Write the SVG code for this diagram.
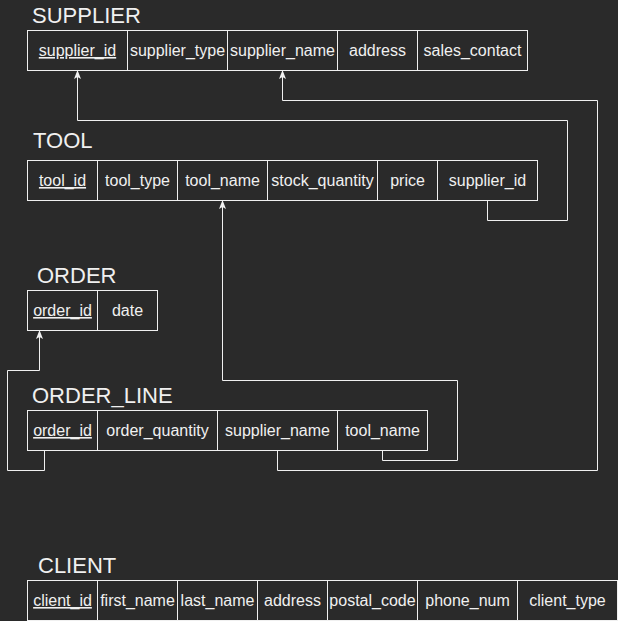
<svg xmlns="http://www.w3.org/2000/svg" width="618" height="621" viewBox="0 0 618 621">
<defs>
<marker id="arr" markerUnits="userSpaceOnUse" markerWidth="10" markerHeight="8" refX="9" refY="4" orient="auto" viewBox="0 0 10 8">
<path d="M0,0.5 L9,4 L0,7.5 L2,4 Z" fill="#f0f0f0"/>
</marker>
<style>
.cell{fill:#2a2a2a;stroke:#f0f0f0;stroke-width:1}
.t{font-family:"Liberation Sans",Arial,sans-serif;font-size:16px;fill:#f0f0f0;text-anchor:middle}
.k{text-decoration:underline}
.h{font-family:"Liberation Sans",Arial,sans-serif;font-size:22px;fill:#f0f0f0}
.c{fill:none;stroke:#f0f0f0;stroke-width:1}
</style>
</defs>
<rect width="618" height="621" fill="#2a2a2a"/>
<g id="connectors">
<polyline class="c" points="487.5,200 487.5,220.5 567.5,220.5 567.5,120.5 77.5,120.5 77.5,70" marker-end="url(#arr)"/>
<polyline class="c" points="277.5,450 277.5,470.5 597.5,470.5 597.5,100.5 282.5,100.5 282.5,70" marker-end="url(#arr)"/>
<polyline class="c" points="382.5,450 382.5,460.5 457.5,460.5 457.5,380.5 222.5,380.5 222.5,200" marker-end="url(#arr)"/>
<polyline class="c" points="44.5,450 44.5,470.5 7.5,470.5 7.5,370.5 39.5,370.5 39.5,330" marker-end="url(#arr)"/>
</g>
<g id="supplier">
<text class="h" x="32" y="23">SUPPLIER</text>
<rect class="cell" x="27.5" y="30.5" width="100" height="40"/>
<rect class="cell" x="127.5" y="30.5" width="100" height="40"/>
<rect class="cell" x="227.5" y="30.5" width="110" height="40"/>
<rect class="cell" x="337.5" y="30.5" width="80" height="40"/>
<rect class="cell" x="417.5" y="30.5" width="110" height="40"/>
<text class="t k" x="77.5" y="56">supplier_id</text>
<text class="t" x="177.5" y="56">supplier_type</text>
<text class="t" x="282.5" y="56">supplier_name</text>
<text class="t" x="377.5" y="56">address</text>
<text class="t" x="472.5" y="56">sales_contact</text>
</g>
<g id="tool">
<text class="h" x="33" y="148">TOOL</text>
<rect class="cell" x="27.5" y="160.5" width="70" height="40"/>
<rect class="cell" x="97.5" y="160.5" width="80" height="40"/>
<rect class="cell" x="177.5" y="160.5" width="90" height="40"/>
<rect class="cell" x="267.5" y="160.5" width="110" height="40"/>
<rect class="cell" x="377.5" y="160.5" width="60" height="40"/>
<rect class="cell" x="437.5" y="160.5" width="100" height="40"/>
<text class="t k" x="62.5" y="186">tool_id</text>
<text class="t" x="137.5" y="186">tool_type</text>
<text class="t" x="222.5" y="186">tool_name</text>
<text class="t" x="322.5" y="186">stock_quantity</text>
<text class="t" x="407.5" y="186">price</text>
<text class="t" x="487.5" y="186">supplier_id</text>
</g>
<g id="order">
<text class="h" x="37" y="283">ORDER</text>
<rect class="cell" x="27.5" y="290.5" width="70" height="40"/>
<rect class="cell" x="97.5" y="290.5" width="60" height="40"/>
<text class="t k" x="62.5" y="316">order_id</text>
<text class="t" x="127.5" y="316">date</text>
</g>
<g id="order_line">
<text class="h" x="32" y="403">ORDER_LINE</text>
<rect class="cell" x="27.5" y="410.5" width="70" height="40"/>
<rect class="cell" x="97.5" y="410.5" width="120" height="40"/>
<rect class="cell" x="217.5" y="410.5" width="120" height="40"/>
<rect class="cell" x="337.5" y="410.5" width="90" height="40"/>
<text class="t k" x="62.5" y="436">order_id</text>
<text class="t" x="157.5" y="436">order_quantity</text>
<text class="t" x="277.5" y="436">supplier_name</text>
<text class="t" x="382.5" y="436">tool_name</text>
</g>
<g id="client">
<text class="h" x="38" y="573">CLIENT</text>
<rect class="cell" x="27.5" y="580.5" width="70" height="40"/>
<rect class="cell" x="97.5" y="580.5" width="80" height="40"/>
<rect class="cell" x="177.5" y="580.5" width="80" height="40"/>
<rect class="cell" x="257.5" y="580.5" width="70" height="40"/>
<rect class="cell" x="327.5" y="580.5" width="90" height="40"/>
<rect class="cell" x="417.5" y="580.5" width="100" height="40"/>
<rect class="cell" x="517.5" y="580.5" width="100" height="40"/>
<text class="t k" x="62.5" y="606">client_id</text>
<text class="t" x="137.5" y="606">first_name</text>
<text class="t" x="217.5" y="606">last_name</text>
<text class="t" x="292.5" y="606">address</text>
<text class="t" x="372.5" y="606">postal_code</text>
<text class="t" x="467.5" y="606">phone_num</text>
<text class="t" x="567.5" y="606">client_type</text>
</g>
</svg>
